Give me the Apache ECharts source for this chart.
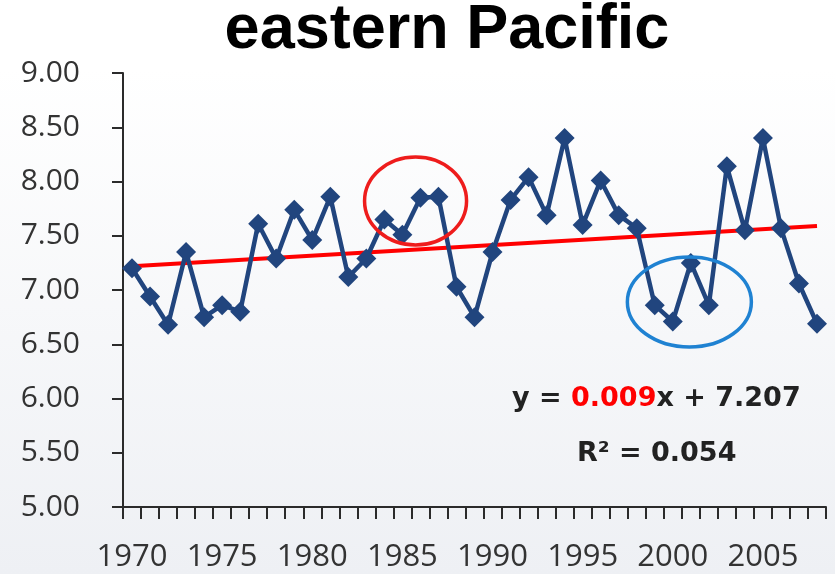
<!DOCTYPE html>
<html>
<head>
<meta charset="utf-8">
<script src="https://cdn.jsdelivr.net/npm/echarts@6/dist/echarts.min.js"></script>
<style>
  html, body { margin: 0; padding: 0; }
  #chart { width: 835px; height: 574px; }
</style>
</head>
<body>
<div id="chart"></div>
<script>
// ---- data ----
const years = ['1970','1971','1972','1973','1974','1975','1976','1977','1978','1979',
               '1980','1981','1982','1983','1984','1985','1986','1987','1988','1989',
               '1990','1991','1992','1993','1994','1995','1996','1997','1998','1999',
               '2000','2001','2002','2003','2004','2005','2006','2007','2008'];
const values = [7.20, 6.94, 6.68, 7.35, 6.75, 6.86, 6.80, 7.61, 7.29, 7.74,
                7.46, 7.86, 7.12, 7.29, 7.65, 7.51, 7.85, 7.86, 7.03, 6.75,
                7.35, 7.83, 8.04, 7.69, 8.40, 7.60, 8.01, 7.69, 7.57, 6.86,
                6.71, 7.25, 6.86, 8.14, 7.55, 8.40, 7.57, 7.06, 6.69];
const trendYears = ['1970', '2008'];
const trendValues = [7.22, 7.59];
const yTicks = { min: 5, max: 9, interval: 0.5 };
const titleText = 'eastern Pacific';
const eqSlope = '0.009';
const eqIntercept = '7.207';
const rSquared = '0.054';

const chart = echarts.init(document.getElementById('chart'), null, { renderer: 'canvas' });

const option = {
  animation: false,
  backgroundColor: {
    type: 'linear', x: 0, y: 0, x2: 0, y2: 1,
    colorStops: [{ offset: 0, color: '#ffffff' }, { offset: 0.12, color: '#ffffff' }, { offset: 1, color: '#eef0f4' }]
  },
  grid: { left: 123, right: 9, top: 73, bottom: 67, containLabel: false },
  xAxis: {
    type: 'category',
    data: years,
    boundaryGap: true,
    axisLine: { lineStyle: { color: '#2b2b2b', width: 2 } },
    axisTick: { show: true, interval: 0, length: 12, lineStyle: { color: '#2b2b2b', width: 2 } },
    axisLabel: {
      interval: 4, margin: 35, color: '#333333',
      fontFamily: 'Open Sans', fontSize: 31
    },
    splitLine: { show: false }
  },
  yAxis: {
    type: 'value',
    min: yTicks.min, max: yTicks.max, interval: yTicks.interval,
    axisLine: { show: true, lineStyle: { color: '#2b2b2b', width: 2 } },
    axisTick: { show: true, length: 11, lineStyle: { color: '#2b2b2b', width: 2 } },
    axisLabel: {
      margin: 43, color: '#333333', fontFamily: 'Open Sans', fontSize: 30,
      formatter: v => v.toFixed(2)
    },
    splitLine: { show: false }
  },
  series: [
    {
      name: 'trend', type: 'line', z: 1,
      data: trendYears.map((y, i) => [y, trendValues[i]]),
      symbol: 'none',
      lineStyle: { color: '#ff0000', width: 4 },
      silent: true
    },
    {
      name: 'eastern Pacific', type: 'line', z: 2,
      data: values,
      symbol: 'diamond', symbolSize: 20,
      showSymbol: true, showAllSymbol: true,
      itemStyle: { color: '#21457e' },
      lineStyle: { color: '#21457e', width: 4.5 }
    }
  ]
};
chart.setOption(option);

// Annotation ellipses anchored to data coordinates (fractional category index)
function toPx(idx, val) {
  const i0 = Math.floor(idx), f = idx - i0;
  const p0 = chart.convertToPixel({ seriesIndex: 1 }, [i0, val]);
  const p1 = chart.convertToPixel({ seriesIndex: 1 }, [i0 + 1, val]);
  return [p0[0] + (p1[0] - p0[0]) * f, p0[1]];
}
const redC = toPx(15.73, 7.82);
const blueC = toPx(30.92, 6.89);
chart.setOption({
  graphic: [
    {
      id: 'title', type: 'text', x: 447, y: 31, z: 10,
      style: {
        text: titleText, fill: '#000000',
        font: 'bold 63px "Liberation Sans", Arial, sans-serif',
        align: 'center', verticalAlign: 'middle'
      }
    },
    {
      id: 'eq1', type: 'text', x: 512, y: 399, z: 10,
      style: {
        text: '{a|y = }{r|' + eqSlope + '}{a|x + ' + eqIntercept + '}',
        align: 'left', verticalAlign: 'middle',
        rich: {
          a: { fill: '#222222', font: 'bold 27px "DejaVu Sans", sans-serif' },
          r: { fill: '#ff0000', font: 'bold 27px "DejaVu Sans", sans-serif' }
        }
      }
    },
    {
      id: 'eq2', type: 'text', x: 577, y: 454, z: 10,
      style: {
        text: 'R\u00B2 = ' + rSquared, fill: '#222222',
        font: 'bold 27px "DejaVu Sans", sans-serif',
        align: 'left', verticalAlign: 'middle'
      }
    },
    {
      id: 'redEllipse', type: 'ellipse', z: 20, silent: true,
      shape: { cx: redC[0], cy: redC[1], rx: 51, ry: 44 },
      style: { fill: 'none', stroke: '#ee1c1c', lineWidth: 3.5 }
    },
    {
      id: 'blueEllipse', type: 'ellipse', z: 20, silent: true,
      shape: { cx: blueC[0], cy: blueC[1], rx: 62, ry: 45 },
      style: { fill: 'none', stroke: '#1f82d2', lineWidth: 3.5 }
    }
  ]
});
</script>
</body>
</html>
